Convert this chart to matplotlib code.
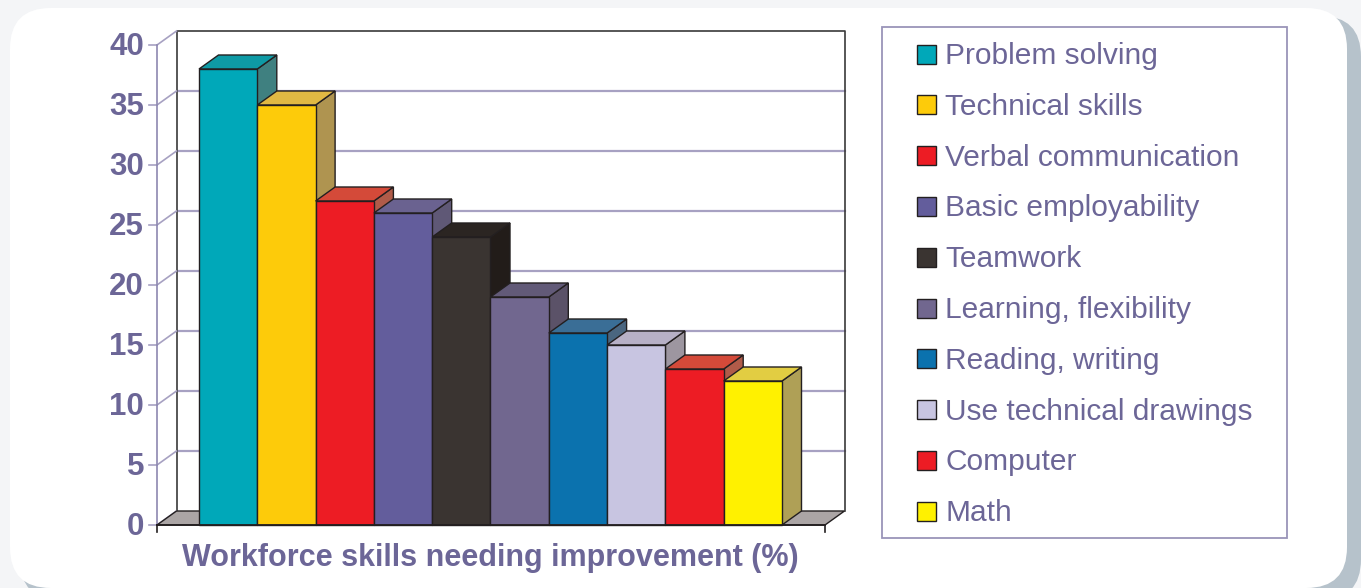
import matplotlib
matplotlib.use("Agg")
import matplotlib.pyplot as plt
from matplotlib.patches import Polygon, Rectangle, FancyBboxPatch

W, H = 1361, 588

skills = [
    "Problem solving", "Technical skills", "Verbal communication",
    "Basic employability", "Teamwork", "Learning, flexibility",
    "Reading, writing", "Use technical drawings", "Computer", "Math",
]
percent = [38, 35, 27, 26, 24, 19, 16, 15, 13, 12]
y_ticks = [0, 5, 10, 15, 20, 25, 30, 35, 40]
x_label = "Workforce skills needing improvement (%)"

front_col = ["#00A8B9", "#FDCB0A", "#ED1C24", "#635D9C", "#3A3431",
             "#71678F", "#0B72AE", "#C8C5E1", "#ED1C24", "#FFF100"]
top_col = ["#0E9AA5", "#E1B943", "#D44A39", "#6A6290", "#2B2522",
           "#625A78", "#3A6E96", "#B7B0C6", "#D44A39", "#E2CD42"]
side_col = ["#3F8080", "#AF9450", "#B05B49", "#5F5876", "#221C19",
            "#5B5268", "#4A6680", "#9D96A0", "#B05B49", "#AFA056"]

TEXT = "#6C6697"
GRID = "#A7A1C2"
EDGE = "#231F20"
FLOOR = "#ABA5A5"
FONT = "Liberation Sans"


def fx(x):
    return x / W


def fy(y):
    return 1 - y / H


fig = plt.figure(figsize=(W / 100, H / 100), dpi=100)
fig.patch.set_facecolor("#F4F5F7")

# rounded white panel with a soft shadow on the right
shadow = FancyBboxPatch((fx(20), fy(600)), fx(1341), fy(16) - fy(600),
                        boxstyle="round,pad=0,rounding_size=0.03",
                        transform=fig.transFigure, fc="#B6C2CB", ec="none",
                        mutation_aspect=W / H, zorder=-3)
panel = FancyBboxPatch((fx(10), fy(588)), fx(1337), fy(8) - fy(588),
                       boxstyle="round,pad=0,rounding_size=0.03",
                       transform=fig.transFigure, fc="white", ec="none",
                       mutation_aspect=W / H, zorder=-2)
fig.patches.extend([shadow, panel])

# plot area: front zero at y=525px, 40 at y=45px, floor from 157 to 825px
ax = fig.add_axes([fx(157), fy(525), fx(825) - fx(157), fy(45) - fy(525)])
ax.set_axis_off()
bar_px = (782 - 199) / 10
XL = -(199 - 157) / bar_px
XR = (825 - 199) / bar_px
ax.set_xlim(XL, XR)
ax.set_ylim(0, 40)
px_y = 480 / 40
DX = 19.5 / bar_px
DY = 14 / px_y
YMAX = y_ticks[-1]

# back wall
ax.add_patch(Polygon([(XL + DX, DY), (XR + DX, DY), (XR + DX, YMAX + DY),
                      (XL + DX, YMAX + DY)], closed=True, fc="white",
                     ec="none", clip_on=False, zorder=1))
for v in y_ticks[1:-1]:
    ax.plot([XL + DX, XR + DX], [v + DY, v + DY], color=GRID, lw=1.6,
            clip_on=False, zorder=2)
ax.plot([XL + DX, XL + DX, XR + DX, XR + DX], [DY, YMAX + DY, YMAX + DY, DY],
        color="#3A3A3A", lw=1.2, clip_on=False, zorder=2)

# left side wall diagonals, axis line and tick marks
for v in y_ticks:
    ax.plot([XL, XL + DX], [v, v + DY], color=GRID, lw=1.2,
            clip_on=False, zorder=2)
    ax.plot([XL - 8 / bar_px, XL], [v, v], color=GRID, lw=1.2,
            clip_on=False, zorder=2)
    ax.text(XL - 13 / bar_px, v - 10 / px_y, str(v), ha="right",
            va="baseline", fontsize=22.5, fontweight="bold", color=TEXT,
            family=FONT)
ax.plot([XL, XL], [0, YMAX], color="#8E88B0", lw=1.2, clip_on=False, zorder=2)

# floor
ax.add_patch(Polygon([(XL, 0), (XR, 0), (XR + DX, DY), (XL + DX, DY)],
                     closed=True, fc=FLOOR, ec=EDGE, lw=1.0,
                     clip_on=False, zorder=3))

# 3d bars, drawn left to right so later bars overlap earlier sides
for i, h in enumerate(percent):
    x0, x1 = i, i + 1
    side = [(x1, 0), (x1 + DX, DY), (x1 + DX, h + DY), (x1, h)]
    top = [(x0, h), (x1, h), (x1 + DX, h + DY), (x0 + DX, h + DY)]
    front = [(x0, 0), (x1, 0), (x1, h), (x0, h)]
    for pts, c in ((side, side_col[i]), (top, top_col[i]),
                   (front, front_col[i])):
        ax.add_patch(Polygon(pts, closed=True, fc=c, ec=EDGE, lw=1.0,
                             joinstyle="miter", clip_on=False, zorder=4))

# front axis line and end ticks
ax.plot([XL, XR], [0, 0], color=EDGE, lw=1.3, clip_on=False, zorder=5)
for x in (XL, XR):
    ax.plot([x, x], [0, -7 / px_y], color=EDGE, lw=1.2, clip_on=False,
            zorder=5)

fig.text(fx(490), fy(558), x_label, ha="center", va="center", fontsize=22,
         fontweight="bold", color=TEXT, family=FONT)

# legend box
fig.patches.append(Rectangle((fx(882), fy(538)), fx(1287) - fx(882),
                             fy(27) - fy(538), transform=fig.transFigure,
                             fc="white", ec="#9A94B9", lw=1.3, zorder=-1))
for i, name in enumerate(skills):
    yc = 54 + i * 50.8
    fig.patches.append(Rectangle((fx(917), fy(yc + 9.5)), fx(19), fy(0) - fy(19),
                                 transform=fig.transFigure,
                                 fc=front_col[i], ec=EDGE, lw=1.0))
    fig.text(fx(945), fy(yc + 10), name, ha="left", va="baseline",
             fontsize=21.5, color=TEXT, family=FONT)

fig.savefig("out.png", dpi=100, facecolor=fig.get_facecolor())
